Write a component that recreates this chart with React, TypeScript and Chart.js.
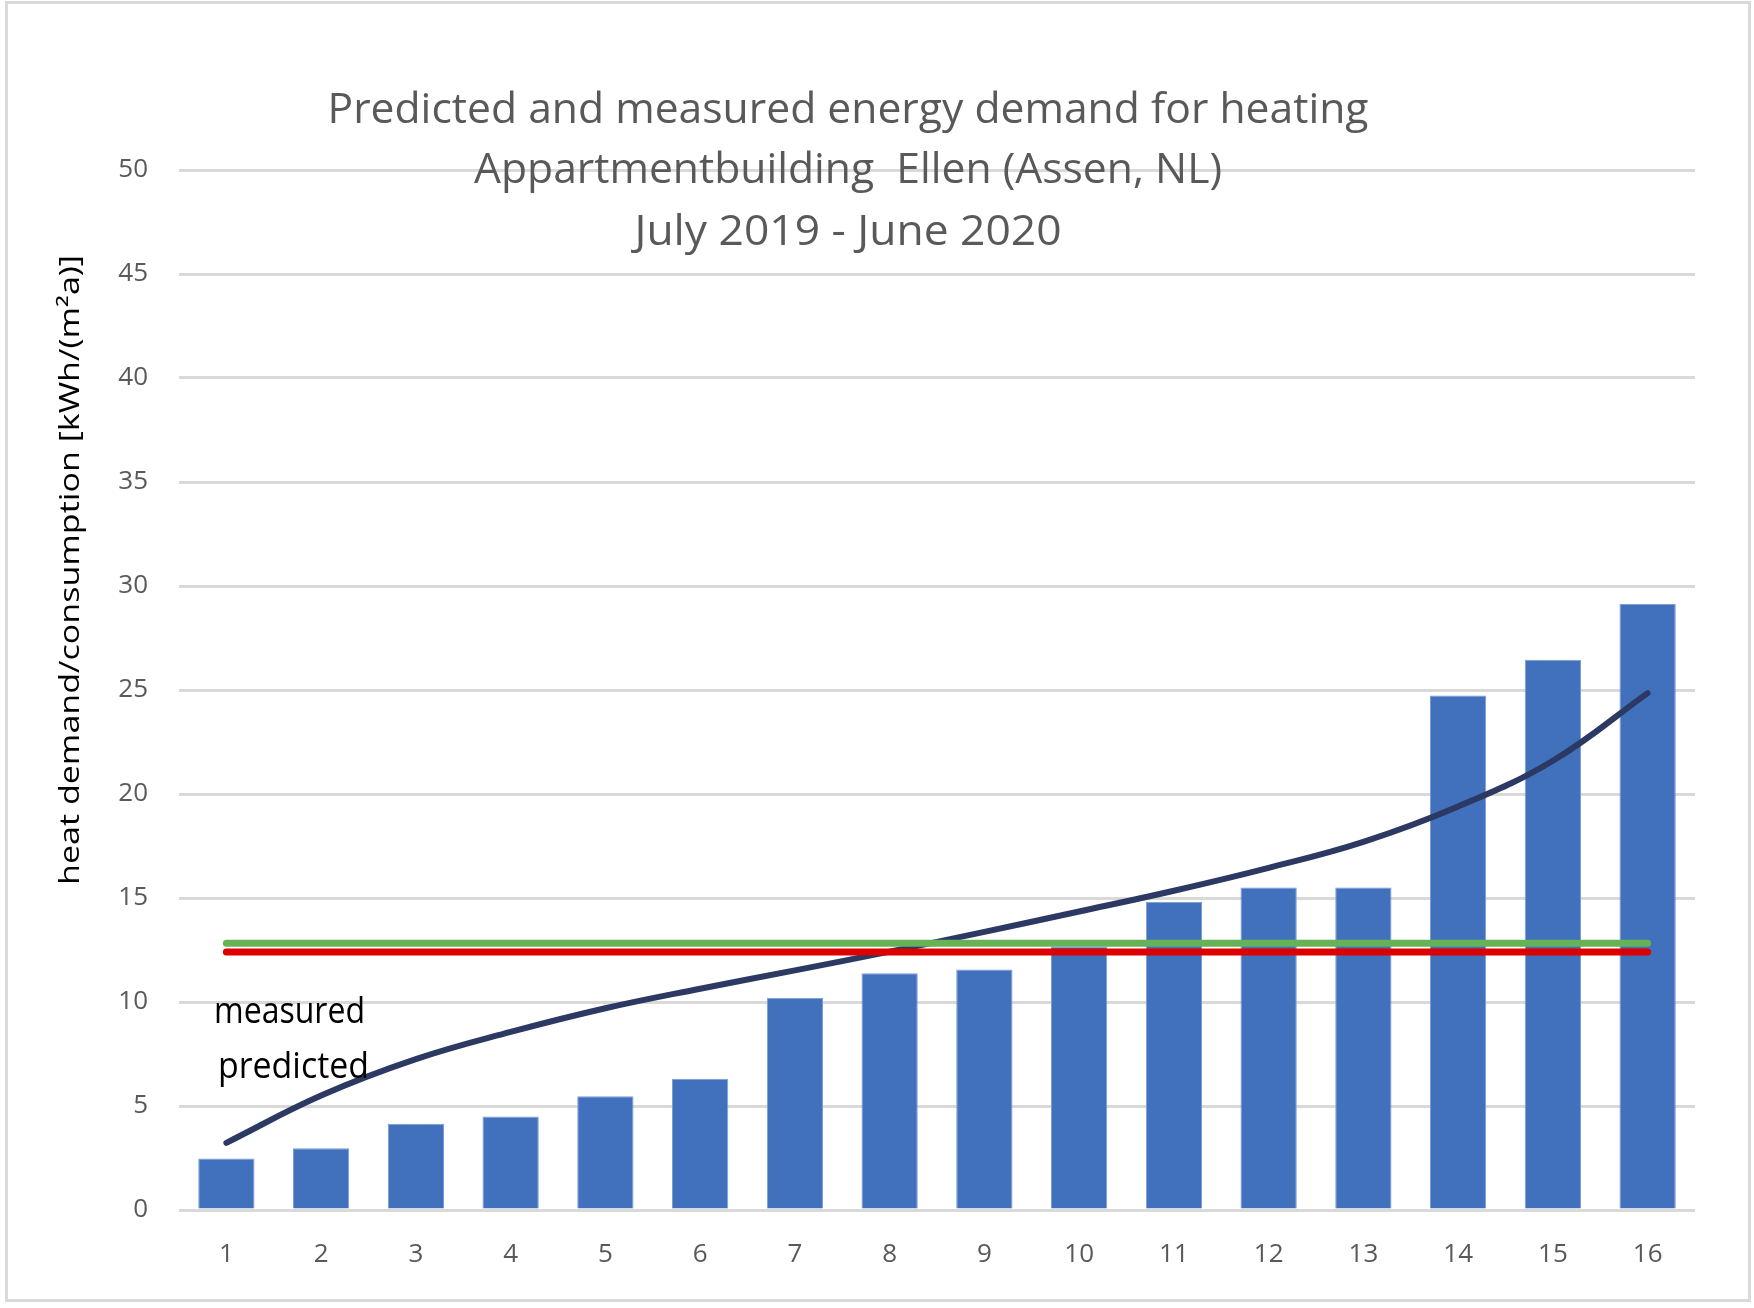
import React, { useEffect, useRef } from "react";
import { Chart, registerables } from "chart.js";

Chart.register(...registerables);

// ---------- data ----------
const categories = ["1", "2", "3", "4", "5", "6", "7", "8", "9", "10", "11", "12", "13", "14", "15", "16"];
const measuredValues = [2.47, 2.97, 4.15, 4.49, 5.47, 6.31, 10.2, 11.38, 11.56, 12.67, 14.82, 15.5, 15.5, 24.74, 26.45, 29.13];
const predictedValues = [3.23, 5.5, 7.25, 8.56, 9.7, 10.64, 11.52, 12.42, 13.37, 14.35, 15.35, 16.45, 17.7, 19.4, 21.6, 24.85];
const measuredAverage = 12.4;
const predictedAverage = 12.83;
const yMin = 0;
const yMax = 50;
const yStep = 5;
const titleLines = [
  "Predicted and measured energy demand for heating",
  "Appartmentbuilding  Ellen (Assen, NL)",
  "July 2019 - June 2020",
];
const yAxisTitle = "heat demand/consumption [kWh/(m²a)]";
const annotationLabels = ["measured", "predicted"];

// ---------- styles ----------
const FAMILY = "'Open Sans', 'Noto Sans', sans-serif";
const GREY_TEXT = "#595959";
const GRID = "#d9d9d9";
const BAR_COLOR = "#4170bd";
const BAR_EDGE = "#7d9dd6";
const CURVE_COLOR = "#2b3963";
const GREEN = "#66b257";
const RED = "#dd0000";

const TITLE_WIDTHS = [1041, 748, 427];
const TITLE_BASELINES = [123, 183, 245];
const TITLE_CENTER_X = 848;

function sizeFor(ctx: CanvasRenderingContext2D, refChar: string, refH: number) {
  ctx.font = `100px ${FAMILY}`;
  const m = ctx.measureText(refChar);
  return (100 * refH) / m.actualBoundingBoxAscent;
}

const textPlugin = {
  id: "texts",
  beforeDraw(chart: any) {
    const ctx: CanvasRenderingContext2D = chart.ctx;
    ctx.save();
    ctx.fillStyle = "#ffffff";
    ctx.fillRect(0, 0, chart.width, chart.height);
    ctx.strokeStyle = GRID;
    ctx.lineWidth = 3;
    ctx.strokeRect(6.5, 2.5, 1743, 1298);
    ctx.restore();
  },
  afterDraw(chart: any) {
    const ctx: CanvasRenderingContext2D = chart.ctx;
    const area = chart.chartArea;

    // title
    ctx.save();
    const tSize = sizeFor(ctx, "H", 30);
    ctx.font = `${tSize}px ${FAMILY}`;
    ctx.fillStyle = GREY_TEXT;
    ctx.textAlign = "center";
    ctx.textBaseline = "alphabetic";
    titleLines.forEach((line, i) => {
      const w = ctx.measureText(line).width;
      ctx.save();
      ctx.translate(TITLE_CENTER_X, TITLE_BASELINES[i]);
      ctx.scale(TITLE_WIDTHS[i] / w, 1);
      ctx.fillText(line, 0, 0);
      ctx.restore();
    });
    ctx.restore();

    // y axis title
    ctx.save();
    const ySize = sizeFor(ctx, "h", 21);
    ctx.font = `${ySize}px ${FAMILY}`;
    const yw = ctx.measureText(yAxisTitle).width;
    ctx.fillStyle = "#000000";
    ctx.textAlign = "center";
    ctx.textBaseline = "alphabetic";
    ctx.translate(79, 570);
    ctx.rotate(-Math.PI / 2);
    ctx.scale(630 / yw, 1);
    ctx.fillText(yAxisTitle, 0, 0);
    ctx.restore();

    // annotations
    ctx.save();
    const aSize = sizeFor(ctx, "x", 20);
    ctx.font = `${aSize}px ${FAMILY}`;
    ctx.fillStyle = "#000000";
    ctx.textAlign = "left";
    ctx.textBaseline = "alphabetic";
    const aPos = [
      [area.left + 35, 1023],
      [area.left + 39, 1078],
    ];
    annotationLabels.forEach((lab, i) => {
      const w = ctx.measureText(lab).width;
      ctx.save();
      ctx.translate(aPos[i][0], aPos[i][1]);
      ctx.scale(151 / w, 1);
      ctx.fillText(lab, 0, 0);
      ctx.restore();
    });
    ctx.restore();
  },
};

export default function App() {
  const ref = useRef<HTMLCanvasElement>(null);

  useEffect(() => {
    document.body.style.margin = "0";
    const canvas = ref.current!;
    const chart = new Chart(canvas, {
      type: "bar",
      data: {
        labels: categories,
        datasets: [
          {
            type: "line",
            label: "predicted average",
            data: categories.map(() => predictedAverage),
            borderColor: GREEN,
            backgroundColor: GREEN,
            borderWidth: 7,
            pointRadius: 0,
            tension: 0,
            borderCapStyle: "round",
            order: 0,
          } as any,
          {
            type: "line",
            label: "measured average",
            data: categories.map(() => measuredAverage),
            borderColor: RED,
            backgroundColor: RED,
            borderWidth: 7,
            pointRadius: 0,
            tension: 0,
            borderCapStyle: "round",
            order: 1,
          } as any,
          {
            type: "line",
            label: "predicted",
            data: predictedValues,
            borderColor: CURVE_COLOR,
            backgroundColor: CURVE_COLOR,
            borderWidth: 6,
            pointRadius: 0,
            tension: 0.4,
            borderCapStyle: "round",
            borderJoinStyle: "round",
            order: 2,
          } as any,
          {
            type: "bar",
            label: "measured",
            data: measuredValues,
            backgroundColor: BAR_COLOR,
            borderColor: BAR_EDGE,
            borderWidth: 1,
            barPercentage: 0.594,
            categoryPercentage: 1,
            order: 3,
          } as any,
        ],
      },
      options: {
        responsive: false,
        devicePixelRatio: 1,
        animation: false,
        layout: { padding: { left: 0, top: 170, right: 59, bottom: 0 } },
        plugins: {
          legend: { display: false },
          tooltip: { enabled: false },
          title: { display: false },
        },
        scales: {
          x: {
            offset: true,
            grid: { display: false, drawTicks: false },
            border: { display: false },
            ticks: {
              color: GREY_TEXT,
              font: { family: FAMILY, size: 26 },
              padding: 29,
              maxRotation: 0,
              autoSkip: false,
            },
            afterFit: (scale: any) => {
              scale.height = 98;
            },
          },
          y: {
            min: yMin,
            max: yMax,
            grid: { color: GRID, lineWidth: 3, drawTicks: false, tickLength: 0 },
            border: { display: false },
            ticks: {
              stepSize: yStep,
              color: GREY_TEXT,
              font: { family: FAMILY, size: 26 },
              padding: 31,
            },
            afterFit: (scale: any) => {
              scale.width = 179;
            },
          },
        },
      },
      plugins: [textPlugin],
    });
    return () => chart.destroy();
  }, []);

  return (
    <div style={{ width: 1754, height: 1308 }}>
      <canvas ref={ref} width={1754} height={1308} style={{ display: "block", width: 1754, height: 1308 }} />
    </div>
  );
}
